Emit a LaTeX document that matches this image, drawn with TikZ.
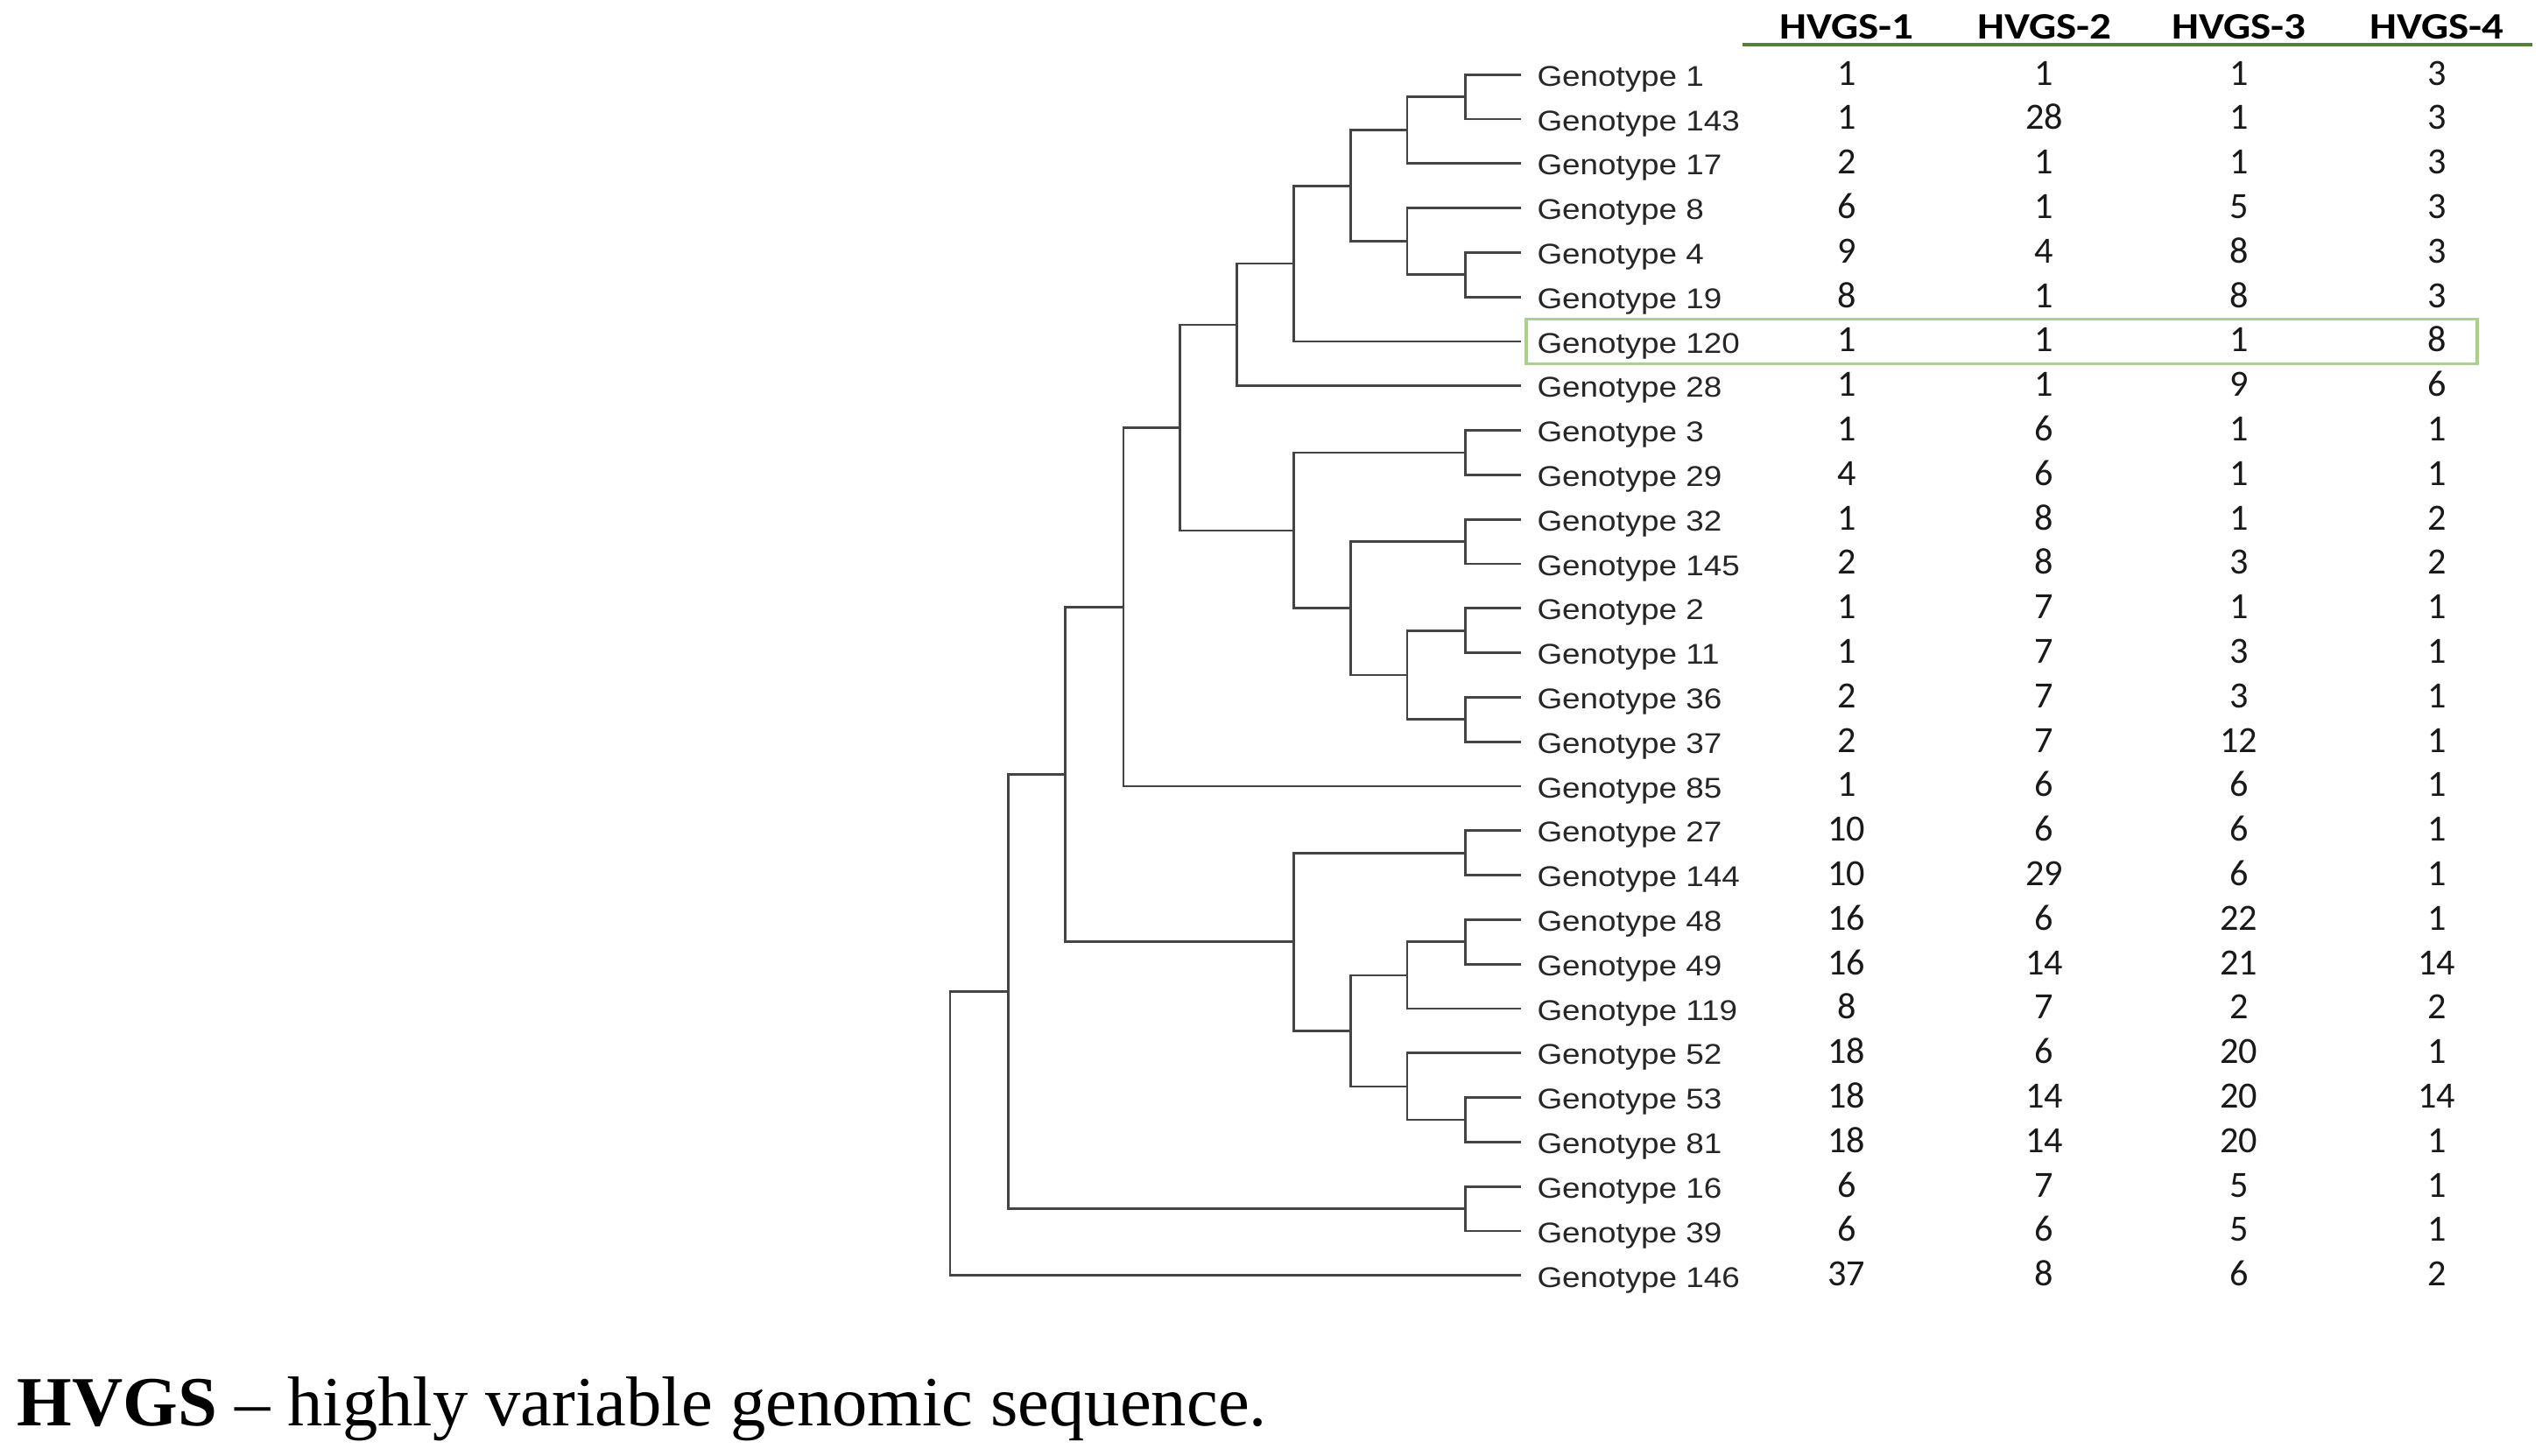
\documentclass[tikz,border=0pt]{standalone}
\usepackage{fontspec}
\setmainfont{Liberation Serif}
\newfontfamily\labfont[FakeStretch=1.13]{Liberation Sans}
\newfontfamily\numfont{Carlito}
\newfontfamily\hdrfont[FakeStretch=1.15]{Carlito}
\definecolor{hdrgreen}{RGB}{84,130,53}
\definecolor{boxgreen}{RGB}{169,208,142}
\definecolor{treegray}{RGB}{68,68,68}
\newcommand\rowy[1]{46+27.44*(#1)}
\begin{document}
\begin{tikzpicture}[x=1pt,y=-1pt,
  branch/.style={draw=treegray,line width=1.5pt},
  leaflabel/.style={anchor=base west,inner sep=0pt,text=black!85,font=\labfont\fontsize{17.6}{20}\selectfont},
  cell/.style={anchor=base,inner sep=0pt,text=black!90,font=\numfont\fontsize{22.8}{26}\selectfont},
  hdr/.style={anchor=base,inner sep=0pt,font=\hdrfont\bfseries\fontsize{23}{26}\selectfont},
  hdrline/.style={draw=hdrgreen,line width=2.2pt},
  hlbox/.style={draw=boxgreen,line width=1.8pt},
]
\useasboundingbox (0,0) rectangle (1568,898);
\fill[white] (0,0) rectangle (1568,898);

% header
\node[hdr] (h1) at (1139,24.3) {HVGS-1};
\node[hdr] (h2) at (1261,24.3) {HVGS-2};
\node[hdr] (h3) at (1381,24.3) {HVGS-3};
\node[hdr] (h4) at (1503,24.3) {HVGS-4};
\coordinate (hl) at (1075,27.5);
\coordinate (hr) at (1562,27.5);
\draw[hdrline] (hl) -- (hr);

% highlight box around Genotype 120
\draw[hlbox] (941.5,197) rectangle (1528,224.5);

% leaves and table
\foreach \g/\a/\b/\c/\d [count=\i from 0] in {
 1/1/1/1/3, 143/1/28/1/3, 17/2/1/1/3, 8/6/1/5/3, 4/9/4/8/3, 19/8/1/8/3,
 120/1/1/1/8, 28/1/1/9/6, 3/1/6/1/1, 29/4/6/1/1, 32/1/8/1/2, 145/2/8/3/2,
 2/1/7/1/1, 11/1/7/3/1, 36/2/7/3/1, 37/2/7/12/1, 85/1/6/6/1, 27/10/6/6/1,
 144/10/29/6/1, 48/16/6/22/1, 49/16/14/21/14, 119/8/7/2/2, 52/18/6/20/1,
 53/18/14/20/14, 81/18/14/20/1, 16/6/7/5/1, 39/6/6/5/1, 146/37/8/6/2}{
  \pgfmathsetmacro\yy{46+27.44*\i}
  \coordinate (t\i) at (938,\yy);
  \node[leaflabel] (l\i) at (948,\yy+7.1) {Genotype \g};
  \node[cell] (v\i-1) at (1139,\yy+6.4) {\a};
  \node[cell] (v\i-2) at (1261,\yy+6.4) {\b};
  \node[cell] (v\i-3) at (1381,\yy+6.4) {\c};
  \node[cell] (v\i-4) at (1503,\yy+6.4) {\d};
}

% internal nodes of the dendrogram
\coordinate (a1) at (904,{\rowy{0.5}});
\coordinate (a2) at (868,{\rowy{1.25}});
\coordinate (a3) at (904,{\rowy{4.5}});
\coordinate (a4) at (868,{\rowy{3.75}});
\coordinate (a5) at (833,{\rowy{2.5}});
\coordinate (a6) at (798,{\rowy{4.25}});
\coordinate (a7) at (763,{\rowy{5.625}});
\coordinate (b1) at (904,{\rowy{8.5}});
\coordinate (b2) at (904,{\rowy{10.5}});
\coordinate (b3) at (904,{\rowy{12.5}});
\coordinate (b4) at (904,{\rowy{14.5}});
\coordinate (b5) at (868,{\rowy{13.5}});
\coordinate (b6) at (833,{\rowy{12}});
\coordinate (b7) at (798,{\rowy{10.25}});
\coordinate (ab) at (728,{\rowy{7.9375}});
\coordinate (ab2) at (693,{\rowy{11.96875}});
\coordinate (c1) at (904,{\rowy{17.5}});
\coordinate (c2) at (904,{\rowy{19.5}});
\coordinate (c3) at (868,{\rowy{20.25}});
\coordinate (c4) at (904,{\rowy{23.5}});
\coordinate (c5) at (868,{\rowy{22.75}});
\coordinate (c6) at (833,{\rowy{21.5}});
\coordinate (c7) at (798,{\rowy{19.5}});
\coordinate (d1) at (657,{\rowy{15.734}});
\coordinate (e1) at (904,{\rowy{25.5}});
\coordinate (d2) at (622,{\rowy{20.617}});
\coordinate (root) at (586,{\rowy{23.81}});

\draw[branch] (t0) -| (a1) |- (t1);
\draw[branch] (a1) -| (a2) |- (t2);
\draw[branch] (t4) -| (a3) |- (t5);
\draw[branch] (t3) -| (a4) |- (a3);
\draw[branch] (a2) -| (a5) |- (a4);
\draw[branch] (a5) -| (a6) |- (t6);
\draw[branch] (a6) -| (a7) |- (t7);
\draw[branch] (t8) -| (b1) |- (t9);
\draw[branch] (t10) -| (b2) |- (t11);
\draw[branch] (t12) -| (b3) |- (t13);
\draw[branch] (t14) -| (b4) |- (t15);
\draw[branch] (b3) -| (b5) |- (b4);
\draw[branch] (b2) -| (b6) |- (b5);
\draw[branch] (b1) -| (b7) |- (b6);
\draw[branch] (a7) -| (ab) |- (b7);
\draw[branch] (ab) -| (ab2) |- (t16);
\draw[branch] (t17) -| (c1) |- (t18);
\draw[branch] (t19) -| (c2) |- (t20);
\draw[branch] (c2) -| (c3) |- (t21);
\draw[branch] (t23) -| (c4) |- (t24);
\draw[branch] (t22) -| (c5) |- (c4);
\draw[branch] (c3) -| (c6) |- (c5);
\draw[branch] (c1) -| (c7) |- (c6);
\draw[branch] (ab2) -| (d1) |- (c7);
\draw[branch] (t25) -| (e1) |- (t26);
\draw[branch] (d1) -| (d2) |- (e1);
\draw[branch] (d2) -| (root) |- (t27);

% caption
\node[anchor=base west,inner sep=0pt,font=\fontsize{43.5}{48}\selectfont] (cap) at (10.5,879.5)
  {\textbf{HVGS} – highly variable genomic sequence.};
\end{tikzpicture}
\end{document}
